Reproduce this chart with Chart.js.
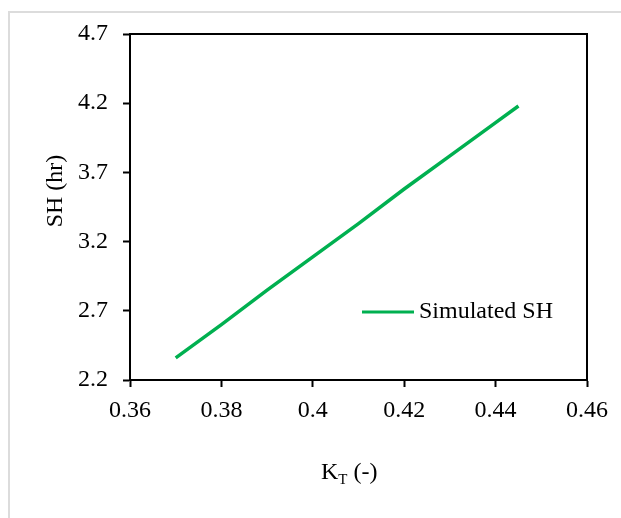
<!DOCTYPE html>
<html>
<head>
<meta charset="utf-8">
<script src="https://cdn.jsdelivr.net/npm/chart.js@4/dist/chart.umd.min.js"></script>
<style>
  body { margin: 0; background: #fff; }
  #frame { position: absolute; left: 8px; top: 11px; width: 700px; height: 600px;
           border-top: 2px solid #dcdcdc; border-left: 2px solid #dcdcdc; }
  #chart { position: absolute; left: 0; top: 0; }
</style>
</head>
<body>
<div id="frame"></div>
<canvas id="chart" width="621" height="518"></canvas>
<script>
const ktValues = [0.370, 0.380, 0.390, 0.400, 0.410, 0.420, 0.430, 0.440, 0.445];
const shValues = [2.36, 2.60, 2.85, 3.09, 3.33, 3.58, 3.82, 4.06, 4.18];
const xTicks = [0.36, 0.38, 0.4, 0.42, 0.44, 0.46];
const yTicks = [2.2, 2.7, 3.2, 3.7, 4.2, 4.7];

const green = '#00b050';
const serif = "'Liberation Serif', 'Times New Roman', serif";
const fs = 24;

// top and right edges of the plot box, axis titles, legend
const decor = {
  id: 'decor',
  afterDraw(chart) {
    const { ctx, chartArea: a } = chart;
    ctx.save();
    ctx.strokeStyle = '#000';
    ctx.lineWidth = 2;
    ctx.beginPath();
    ctx.moveTo(a.left, a.top);
    ctx.lineTo(a.right, a.top);
    ctx.lineTo(a.right, a.bottom);
    ctx.stroke();

    // legend
    const ly = 312;
    ctx.strokeStyle = green;
    ctx.lineWidth = 3;
    ctx.beginPath();
    ctx.moveTo(362, ly);
    ctx.lineTo(414, ly);
    ctx.stroke();
    ctx.fillStyle = '#000';
    ctx.font = fs + 'px ' + serif;
    ctx.textBaseline = 'middle';
    ctx.textAlign = 'left';
    ctx.fillText(chart.data.datasets[0].label, 419, ly);

    // x title: K_T (-)
    ctx.textBaseline = 'alphabetic';
    let x = 321;
    ctx.fillText('K', x, 479);
    x += ctx.measureText('K').width;
    ctx.font = '15px ' + serif;
    ctx.fillText('T', x, 484);
    x += ctx.measureText('T').width;
    ctx.font = fs + 'px ' + serif;
    ctx.fillText(' (-)', x, 479);

    // y title
    ctx.translate(56, 191);
    ctx.rotate(-Math.PI / 2);
    ctx.textAlign = 'center';
    ctx.textBaseline = 'middle';
    ctx.fillText('SH (hr)', 0, 0);
    ctx.restore();
  }
};

const axisCommon = {
  grid: { drawOnChartArea: false, drawTicks: true, tickLength: 7, tickColor: '#000', tickWidth: 2 },
  border: { display: true, color: '#000', width: 2 },
};

new Chart(document.getElementById('chart'), {
  type: 'scatter',
  data: {
    datasets: [{
      label: 'Simulated SH',
      data: ktValues.map((k, i) => ({ x: k, y: shValues[i] })),
      showLine: true,
      borderColor: green,
      borderWidth: 3.5,
      pointRadius: 0,
      fill: false
    }]
  },
  options: {
    responsive: false,
    animation: false,
    layout: { padding: { top: 34, right: 34, left: 0, bottom: 0 } },
    plugins: { legend: { display: false }, tooltip: { enabled: false } },
    scales: {
      x: {
        ...axisCommon,
        type: 'linear',
        min: 0.36, max: 0.46,
        afterBuildTicks: s => { s.ticks = xTicks.map(v => ({ value: v })); },
        afterFit: s => { s.height = 138; },
        ticks: {
          autoSkip: false, maxRotation: 0, padding: 9,
          color: '#000', font: { family: serif, size: fs },
          callback: v => String(v)
        }
      },
      y: {
        ...axisCommon,
        type: 'linear',
        min: 2.2, max: 4.7,
        afterBuildTicks: s => { s.ticks = yTicks.map(v => ({ value: v })); },
        afterFit: s => { s.width = 130; },
        ticks: {
          autoSkip: false, padding: 15,
          color: '#000', font: { family: serif, size: fs },
          callback: v => String(v)
        }
      }
    }
  },
  plugins: [decor]
});
</script>
</body>
</html>
